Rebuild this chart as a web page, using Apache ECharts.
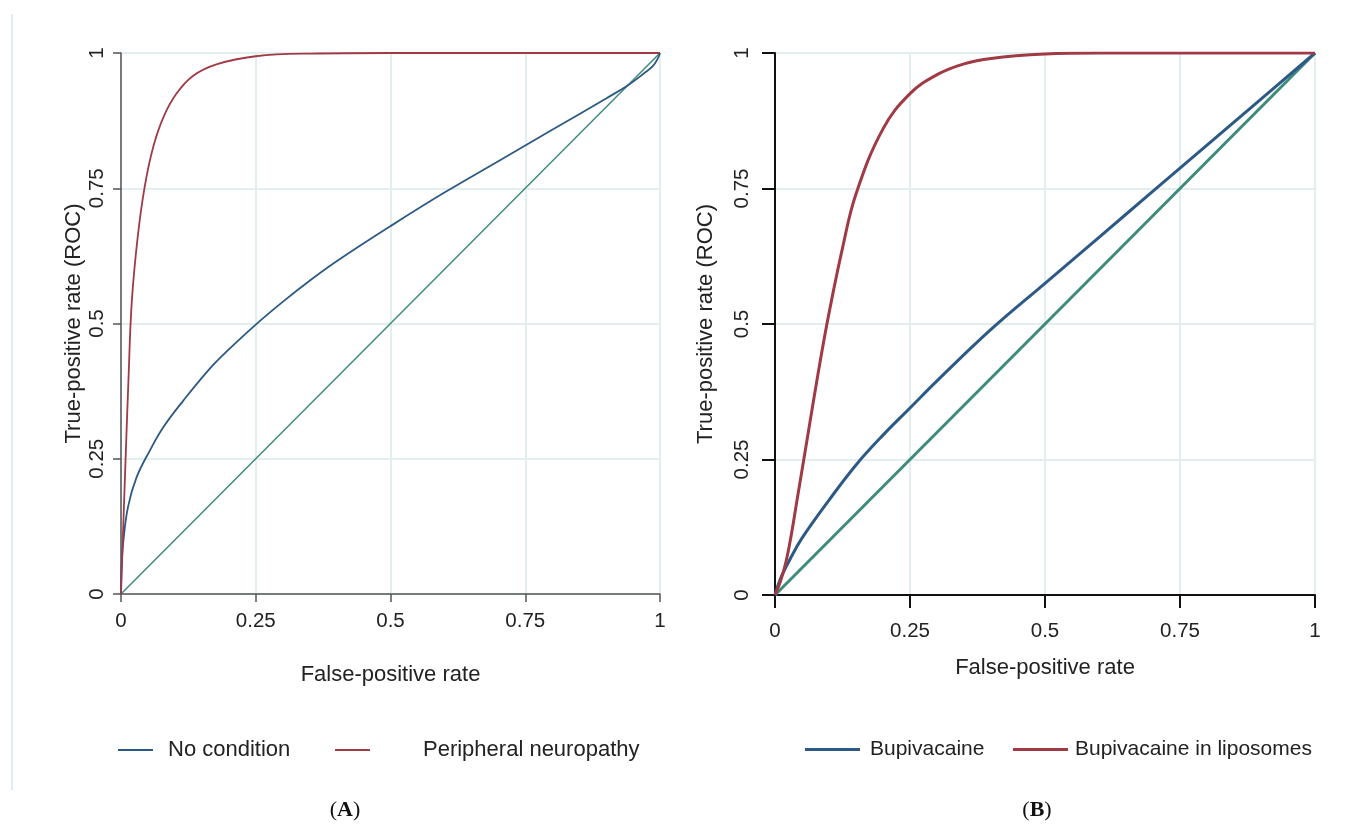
<!DOCTYPE html>
<html><head><meta charset="utf-8">
<script src="https://cdn.jsdelivr.net/npm/echarts@6/dist/echarts.min.js"></script>
<style>html,body{margin:0;padding:0;background:#fff}#c{width:1354px;height:825px}</style>
</head><body><div id="c"></div>
<script>
// Panel A data
const aNoCondX = [0, 0.001, 0.004, 0.013, 0.029, 0.054, 0.079, 0.116, 0.166, 0.2, 0.25, 0.3, 0.35, 0.4, 0.5, 0.6, 0.7, 0.8, 0.9, 0.94, 0.97, 0.987, 0.996, 1];
const aNoCondY = [0, 0.05, 0.094, 0.161, 0.216, 0.266, 0.309, 0.358, 0.418, 0.452, 0.498, 0.540, 0.579, 0.615, 0.68, 0.742, 0.80, 0.858, 0.916, 0.94, 0.962, 0.976, 0.99, 1];
const aNeuroX = [0, 0.003, 0.008, 0.014, 0.02, 0.031, 0.044, 0.06, 0.079, 0.103, 0.134, 0.177, 0.25, 0.35, 0.5, 1];
const aNeuroY = [0, 0.09, 0.235, 0.40, 0.54, 0.66, 0.753, 0.827, 0.882, 0.925, 0.958, 0.979, 0.994, 0.999, 1, 1];
// Panel B data
const bBupiX = [0, 0.01, 0.03, 0.05, 0.1, 0.15, 0.2, 0.25, 0.3, 0.4, 0.5, 0.6, 0.7, 0.8, 0.9, 1];
const bBupiY = [0, 0.03, 0.07, 0.105, 0.175, 0.24, 0.295, 0.345, 0.395, 0.49, 0.575, 0.66, 0.745, 0.83, 0.915, 1];
const bLipoX = [0, 0.01, 0.02, 0.03, 0.04, 0.06, 0.08, 0.1, 0.125, 0.15, 0.2, 0.25, 0.3, 0.35, 0.4, 0.5, 0.6, 1];
const bLipoY = [0, 0.025, 0.06, 0.11, 0.17, 0.29, 0.41, 0.52, 0.64, 0.74, 0.86, 0.925, 0.96, 0.98, 0.99, 0.998, 1, 1];
const diagX = [0, 1];
const diagY = [0, 1];
const tickVals = [0, 0.25, 0.5, 0.75, 1];
const xName = 'False-positive rate';
const yName = 'True-positive rate (ROC)';
const namesA = ['No condition', 'Peripheral neuropathy'];
const namesB = ['Bupivacaine', 'Bupivacaine in liposomes'];
const panelLabels = ['A', 'B'];

const BLUE = '#2c5985', RED = '#a03a45', TEAL = '#3e8b7c', GRID = '#e3eeee';
const zip = (xs, ys) => xs.map((x, i) => [x, ys[i]]);
const FONT = 'Liberation Sans, Arial, sans-serif';

function xAx(idx, axisColor, axisW, labelMargin, nameGap) {
  return {
    type: 'value', gridIndex: idx, min: 0, max: 1, interval: 0.25,
    name: xName, nameLocation: 'middle', nameGap: nameGap,
    nameTextStyle: { fontSize: 22, color: '#222', fontFamily: FONT },
    axisLine: { lineStyle: { color: axisColor, width: axisW } },
    axisTick: { length: idx === 0 ? 8 : 13, lineStyle: { color: axisColor, width: axisW } },
    axisLabel: { fontSize: 20.5, color: '#222', margin: labelMargin, fontFamily: FONT,
      formatter: v => String(v) },
    splitLine: { show: true, lineStyle: { color: GRID, width: 2 } }
  };
}
function yAx(idx, axisColor, axisW, labelMargin, nameGap) {
  return {
    type: 'value', gridIndex: idx, min: 0, max: 1, interval: 0.25,
    name: yName, nameLocation: 'middle', nameGap: nameGap, nameRotate: 90,
    nameTextStyle: { fontSize: 22, color: '#222', fontFamily: FONT },
    axisLine: { show: true, lineStyle: { color: axisColor, width: axisW } },
    axisTick: { show: true, length: idx === 0 ? 8 : 13, lineStyle: { color: axisColor, width: axisW } },
    axisLabel: { fontSize: 20.5, color: '#222', rotate: 90, margin: labelMargin, fontFamily: FONT,
      formatter: v => String(v) },
    splitLine: { show: true, lineStyle: { color: GRID, width: 2 } }
  };
}
function line(name, data, color, w, xi) {
  return { name: name, type: 'line', xAxisIndex: xi, yAxisIndex: xi, data: data,
    showSymbol: false, symbol: 'none', smooth: 0.4,
    lineStyle: { color: color, width: w }, itemStyle: { color: color }, z: 3 };
}
function leg(name, left, color, w, h, pad, fs) {
  return { data: [name], left: left, top: 734, icon: 'rect', itemWidth: w, itemHeight: h,
    itemStyle: { color: color }, textStyle: { fontSize: fs, color: '#222', fontFamily: FONT, padding: [0, 0, 0, pad] },
    selectedMode: false };
}

const chart = echarts.init(document.getElementById('c'));
chart.setOption({
  animation: false,
  backgroundColor: '#fff',
  grid: [
    { left: 121, top: 53, width: 539, height: 541 },
    { left: 775, top: 53, width: 540, height: 542 }
  ],
  xAxis: [xAx(0, '#555', 1.5, 17, 70), xAx(1, '#111', 2, 26, 62)],
  yAxis: [yAx(0, '#555', 1.5, 13, 36), yAx(1, '#111', 2, 22, 58)],
  legend: [
    leg(namesA[0], 113, BLUE, 35, 2, 10, 22),
    leg(namesA[1], 330, RED, 35, 2, 48, 22),
    leg(namesB[0], 800, BLUE, 55, 3, 5, 21),
    leg(namesB[1], 1008, RED, 55, 3, 2, 21)
  ],
  series: [
    line('diagA', zip(diagX, diagY), TEAL, 1.5, 0),
    line(namesA[0], zip(aNoCondX, aNoCondY), BLUE, 1.8, 0),
    line(namesA[1], zip(aNeuroX, aNeuroY), RED, 1.8, 0),
    line('diagB', zip(diagX, diagY), TEAL, 3, 1),
    line(namesB[0], zip(bBupiX, bBupiY), BLUE, 3, 1),
    line(namesB[1], zip(bLipoX, bLipoY), RED, 3, 1)
  ],
  graphic: [
    { type: 'line', shape: { x1: 12, y1: 14, x2: 12, y2: 790 }, style: { stroke: '#e3eeee', lineWidth: 2 } },
    { type: 'text', x: 345, y: 810, style: { text: '{p|(}{b|' + panelLabels[0] + '}{p|)}', align: 'center', verticalAlign: 'middle',
      rich: { p: { fontSize: 22, fontFamily: 'Liberation Serif, serif', fill: '#111' }, b: { fontSize: 22, fontWeight: 'bold', fontFamily: 'Liberation Serif, serif', fill: '#111' } } } },
    { type: 'text', x: 1037, y: 810, style: { text: '{p|(}{b|' + panelLabels[1] + '}{p|)}', align: 'center', verticalAlign: 'middle',
      rich: { p: { fontSize: 22, fontFamily: 'Liberation Serif, serif', fill: '#111' }, b: { fontSize: 22, fontWeight: 'bold', fontFamily: 'Liberation Serif, serif', fill: '#111' } } } }
  ]
});
</script></body></html>
